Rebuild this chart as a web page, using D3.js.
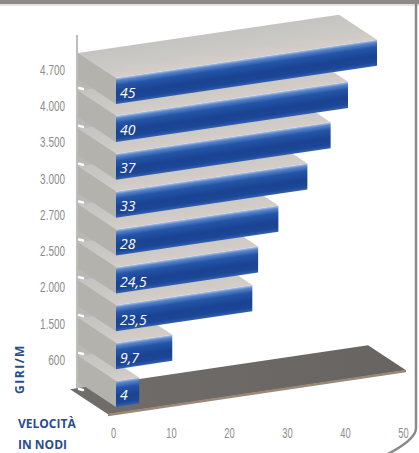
<!DOCTYPE html>
<html><head><meta charset="utf-8">
<script src="https://cdn.jsdelivr.net/npm/d3@7"></script>
<style>html,body{margin:0;padding:0;background:#fff;} svg{display:block}</style>
</head><body>
<svg id="c" width="419" height="453"></svg>
<script>
// ---- data ----
const rpm = [4700, 4000, 3500, 3000, 2700, 2500, 2000, 1500, 600];
const speeds = [45, 40, 37, 33, 28, 24.5, 23.5, 9.7, 4];
const xTicks = [0, 10, 20, 30, 40, 50];
const yTitle = "GIRI/M";
const xTitle = ["VELOCITÀ", "IN NODI"];

const it = d3.formatLocale({decimal: ",", thousands: ".", grouping: [3], currency: ["€", ""]});
const fmtRpm = it.format(",d");
const fmtVal = it.format("~g");

const svg = d3.select("#c");
const K = -0.147;                       // perspective slope of the bars
const SKEW = Math.atan(K) * 180 / Math.PI;
const DX = -38, DY = -25;               // depth offset (screen)
const DYL = DY - K * DX;                // depth offset in skewed local coords

const x = d3.scaleLinear().domain([0, 50]).range([116, 406]);
const y = d3.scaleBand().domain(rpm).range([78, 407]).paddingInner(0.31).paddingOuter(0);
const yLab = d3.scalePoint().domain(rpm).range([70, 360]);
const xAx = d3.scaleLinear().domain([0, 50]).range([113, 403]);
const bw = y.bandwidth();
const x0 = x(0);
const floorY = y(rpm[rpm.length - 1]) + bw + 6;

// ---- defs ----
const defs = svg.append("defs");
const gf = defs.append("linearGradient").attr("id", "front").attr("x1", 0).attr("y1", 0).attr("x2", 0).attr("y2", 1);
[[0, "#b5cbe8"], [0.1, "#5a85ca"], [0.28, "#2455a8"], [0.6, "#1a4392"], [0.85, "#1c4697"], [1, "#3361ae"]]
  .forEach(([o, c]) => gf.append("stop").attr("offset", o).attr("stop-color", c));
const gt = defs.append("linearGradient").attr("id", "top").attr("x1", 0).attr("y1", 1).attr("x2", 0).attr("y2", 0);
[[0, "#d6cdc9"], [0.4, "#cbc9c5"], [1, "#c4c4c2"]]
  .forEach(([o, c]) => gt.append("stop").attr("offset", o).attr("stop-color", c));
const gfl = defs.append("linearGradient").attr("id", "floor").attr("x1", 0).attr("y1", 0).attr("x2", 1).attr("y2", 0);
[[0, "#706d6a"], [1, "#676462"]]
  .forEach(([o, c]) => gfl.append("stop").attr("offset", o).attr("stop-color", c));

// ---- frame ----
svg.append("rect").attr("x", 0).attr("y", 0).attr("width", 419).attr("height", 4).attr("fill", "#8e8a85");
svg.append("rect").attr("x", 0).attr("y", 4).attr("width", 419).attr("height", 2).attr("fill", "#e6e2dc");
svg.append("path").attr("d", "M416,4 L416,428 Q416,440 384,456")
  .attr("fill", "none").attr("stroke", "#8a8a8a").attr("stroke-width", 2.5);

// ---- side wall ----
const yTop0 = y(rpm[0]);
svg.append("polygon")
  .attr("points", [[x0 + DX, yTop0 + DY], [x0, yTop0], [x0, floorY], [x0 + DX, floorY + DY]].join(" "))
  .attr("fill", "#bab8b3");
svg.append("line").attr("x1", 77).attr("x2", 77).attr("y1", 35).attr("y2", floorY + DY + 2)
  .attr("stroke", "#7a7a7a").attr("stroke-width", 1);

// ---- floor ----
const fw = x(50) - x0;
const fg = svg.append("g").attr("transform", `translate(${x0},${floorY}) skewY(${SKEW})`);
fg.append("polygon")
  .attr("points", [[-8, 0], [fw, 0], [fw + DX, DYL], [-8 + DX, DYL]].join(" "))
  .attr("fill", "url(#floor)");
fg.append("rect").attr("x", -8).attr("y", -0.5).attr("width", fw + 8).attr("height", 2.5).attr("fill", "#9c8877");

// ---- bars (bottom first) ----
const order = d3.range(rpm.length).reverse();
order.forEach(i => {
  const r = rpm[i], v = speeds[i];
  const w = x(v) - x0;
  const g = svg.append("g").attr("transform", `translate(${x0},${y(r)}) skewY(${SKEW})`);
  g.append("polygon").attr("points", [[0, 0], [w, 0], [w + DX, DYL], [DX, DYL]].join(" ")).attr("fill", "url(#top)");
  g.append("polygon").attr("points", [[0, 0], [0, bw], [DX, bw + DYL], [DX, DYL]].join(" ")).attr("fill", "#b3b2ad");
  g.append("rect").attr("x", 0).attr("y", 0).attr("width", w).attr("height", bw).attr("fill", "url(#front)");
});

// white gap marks at the back edge
for (let i = 0; i < rpm.length; i++) {
  const yc = (i < rpm.length - 1 ? (y(rpm[i]) + bw + y(rpm[i + 1])) / 2 : y(rpm[i]) + bw + 4) + DY + 3;
  svg.append("line").attr("x1", 79).attr("x2", 83).attr("y1", yc).attr("y2", yc + 1)
    .attr("stroke", "#ffffff").attr("stroke-width", 2.5).attr("stroke-linecap", "round");
}

// value labels
svg.append("g").selectAll("text").data(rpm).join("text")
  .attr("x", x0 + 4)
  .attr("y", r => y(r) + bw / 2 + 1)
  .attr("dominant-baseline", "central")
  .attr("fill", "#ffffff")
  .attr("font-family", "'Open Sans', sans-serif")
  .attr("font-style", "italic")
  .attr("font-size", 14)
  .text((r, i) => fmtVal(speeds[i]));

// ---- axes ----
const narrow = (sel, per) => sel.each(function () {
  const t = d3.select(this).text();
  const n = t.replace(/[.,]/g, "").length, p = t.length - n;
  d3.select(this).attr("textLength", n * per + p * 2.5).attr("lengthAdjust", "spacingAndGlyphs");
});
const ya = svg.append("g").attr("transform", "translate(65,0)")
  .call(d3.axisLeft(yLab).tickSize(0).tickPadding(0).tickFormat(fmtRpm));
ya.select(".domain").remove();
ya.selectAll("text").attr("fill", "#8c8c8c")
  .attr("font-family", "'Liberation Sans', sans-serif").attr("font-size", 14)
  .call(narrow, 5.6);

const xa = svg.append("g").attr("transform", "translate(0,424)")
  .call(d3.axisBottom(xAx).tickValues(xTicks).tickSize(0).tickPadding(3).tickFormat(d3.format("d")));
xa.select(".domain").remove();
xa.selectAll("text").attr("fill", "#8c8c8c")
  .attr("font-family", "'Liberation Sans', sans-serif").attr("font-size", 15)
  .call(narrow, 5.2);

// ---- titles ----
const tcol = "#2b4c90";
svg.append("text").attr("x", 18).attr("y", 428).text(xTitle[0])
  .attr("fill", tcol).attr("font-family", "'Open Sans', sans-serif").attr("font-weight", 700).attr("font-size", 12);
svg.append("text").attr("x", 18).attr("y", 449).text(xTitle[1])
  .attr("fill", tcol).attr("font-family", "'Open Sans', sans-serif").attr("font-weight", 700).attr("font-size", 12);
svg.append("text").attr("transform", "translate(24,369) rotate(-90)").attr("text-anchor", "middle").text(yTitle)
  .attr("fill", tcol).attr("font-family", "'Open Sans', sans-serif").attr("font-weight", 700).attr("font-size", 12)
  .attr("letter-spacing", 1.5);
</script>
</body></html>
